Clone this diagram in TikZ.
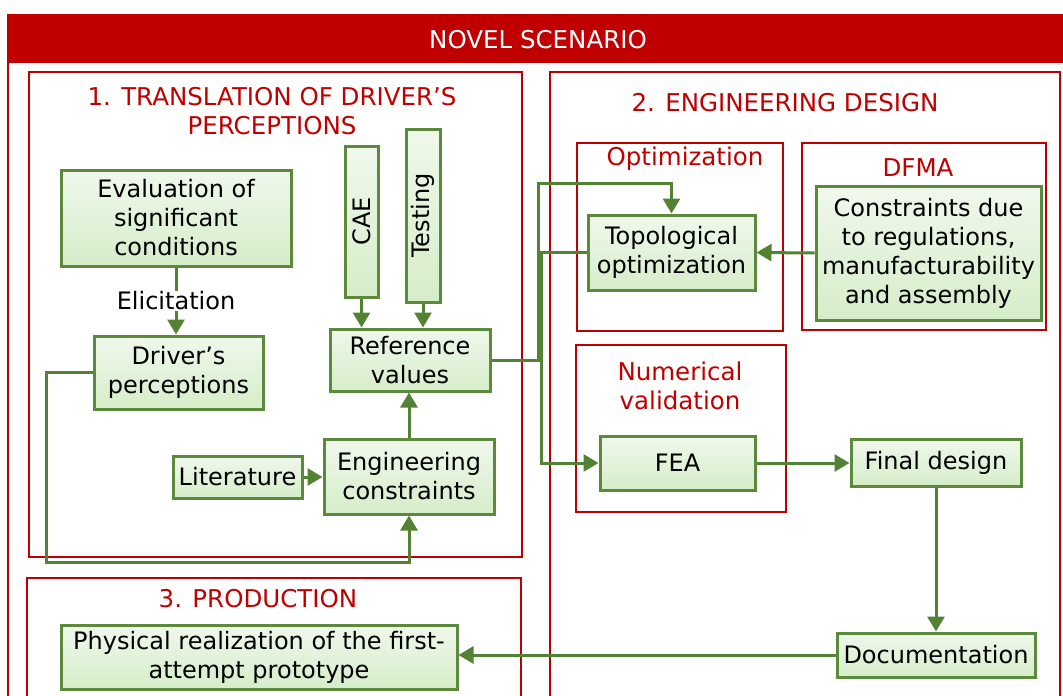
\documentclass[tikz,border=0pt]{standalone}
\usepackage{fontspec}
\setmainfont{DejaVu Sans}
\usetikzlibrary{arrows.meta}
\definecolor{dred}{HTML}{C00000}
\definecolor{gborder}{HTML}{5B8A3C}
\definecolor{garrow}{HTML}{548235}
\definecolor{gtop}{HTML}{F0F8EC}
\definecolor{gbot}{HTML}{D5EDC9}
\tikzset{
  gbox/.style={draw=gborder, line width=3pt, top color=gtop, bottom color=gbot,
    inner sep=0pt, align=center, font=\fontsize{24}{29}\selectfont, text=black},
  gsize/.style 2 args={minimum width=#1pt, minimum height=#2pt},
  redframe/.style={draw=dred, line width=2.6pt},
  redtitle/.style={text=dred, align=center, font=\fontsize{24.5}{29}\selectfont, inner sep=0pt},
  conn/.style={draw=garrow, line width=3pt},
  arr/.style={conn, -{Triangle[length=15pt,width=17pt]}},
}
\begin{document}
\begin{tikzpicture}[x=1pt,y=-1pt]
\useasboundingbox (0,0) rectangle (1063,696);
\begin{scope}
\clip (0,0) rectangle (1063,696);
% outer frame
\fill[dred] (8,15) rectangle (1075,63);
\draw[redframe] (8,15) rectangle (1075,720);
\node[text=white, font=\fontsize{24.5}{29}\selectfont] (novel) at (538,40) {NOVEL SCENARIO};
% containers
\draw[redframe] (29,72) rectangle (522,557);
\draw[redframe] (550,72) rectangle (1060,720);
\draw[redframe] (27,578) rectangle (521,720);
\draw[redframe] (577,143) rectangle (783,331);
\draw[redframe] (802,143) rectangle (1046,330);
\draw[redframe] (576,345) rectangle (786,512);
\end{scope}
% titles
\node[redtitle] (t1) at (272,111) {1. TRANSLATION OF DRIVER’S\\PERCEPTIONS};
\node[redtitle] (t2) at (785,103) {2. ENGINEERING DESIGN};
\node[redtitle] (t3) at (258,599) {3. PRODUCTION};
\node[redtitle] (topt) at (685,159) {Optimization};
\node[redtitle] (tdfma) at (918,168) {DFMA};
\node[redtitle] (tnum) at (680,386) {Numerical\\validation};
% nodes
\node[gbox, gsize={230}{96}] (eval) at (176,218) {Evaluation of\\significant\\conditions};
\node[gbox, gsize={169}{73}] (driver) at (178.5,372.5) {Driver’s\\perceptions};
\node[gbox, gsize={33}{151}] (cae) at (361.5,221.5) {\rotatebox{90}{CAE}};
\node[gbox, gsize={34}{173}] (testing) at (423,215.5) {\rotatebox{90}{Testing}};
\node[gbox, gsize={160}{62}] (ref) at (410,360) {Reference\\values};
\node[gbox, gsize={129}{42}] (lit) at (237.5,477) {Literature};
\node[gbox, gsize={170}{75}] (engc) at (409,476.5) {Engineering\\constraints};
\node[gbox, gsize={167}{75}] (topo) at (671.5,252.5) {Topological\\optimization};
\node[gbox, gsize={225}{134}] (cons) at (928.5,253) {Constraints due\\to regulations,\\manufacturability\\and assembly};
\node[gbox, gsize={155}{54}] (fea) at (677.5,463) {FEA};
\node[gbox, gsize={170}{47}] (final) at (936,462.5) {Final design};
\node[gbox, gsize={198}{44}] (doc) at (936,655) {Documentation};
\node[gbox, gsize={396}{64}] (phys) at (259,657) {Physical realization of the first-\\attempt prototype};
% helper coordinates
\coordinate (c1) at (46,562);
\coordinate (c2) at (538,183);
\coordinate (c3) at (541,463);
% connectors
\draw[arr] (eval.south) -- node[midway, fill=white, inner sep=1pt, font=\fontsize{24}{29}\selectfont] (elic) {Elicitation} (eval.south |- driver.north);
\draw[arr] (cae.south) -- (cae.south |- ref.north);
\draw[arr] (testing.south) -- (testing.south |- ref.north);
\draw[arr] (lit.east) -- (engc.west |- lit.east);
\draw[arr] (engc.north) -- (engc.north |- ref.south);
\draw[arr] (driver.west) -- (driver.west -| c1) -- (c1) -- (c1 -| engc.south) -- (engc.south);
\draw[arr] (ref.east) -- (ref.east -| c2) -- (c2) -- (c2 -| topo.north) -- (topo.north);
\draw[arr] (topo.west) -- (topo.west -| c3) -- (c3) -- (fea.west);
\draw[arr] (cons.west) -- (topo.east);
\draw[arr] (fea.east) -- (final.west |- fea.east);
\draw[arr] (final.south) -- (doc.north);
\draw[arr] (doc.west) -- (doc.west -| phys.east);
\end{tikzpicture}
\end{document}
